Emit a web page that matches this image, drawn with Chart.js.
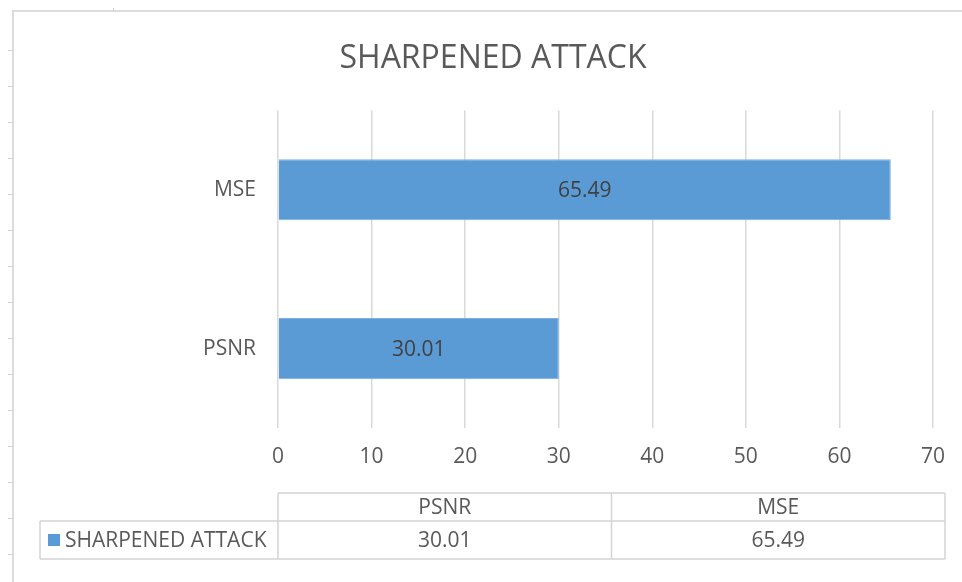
<!DOCTYPE html>
<html>
<head>
<meta charset="utf-8">
<title>SHARPENED ATTACK</title>
<script src="https://cdn.jsdelivr.net/npm/chart.js@4.4.1/dist/chart.umd.min.js"></script>
<style>
    html, body { margin: 0; padding: 0; background: #ffffff; }
    #wrap { width: 962px; height: 582px; position: relative; }
</style>
</head>
<body>
<div id="wrap"><canvas id="attackGraph" width="962" height="582"></canvas></div>
<script>
const chartTitle = 'SHARPENED ATTACK';
const seriesName = 'SHARPENED ATTACK';
const categories = ['PSNR', 'MSE'];
const values = [30.01, 65.49];
const axisMin = 0;
const axisMax = 70;
const axisStep = 10;

const barColor = '#5B9BD5';
const textColor = '#595959';
const lineColor = '#d9d9d9';
const fontFamily = "'Open Sans', 'DejaVu Sans', sans-serif";

// sheet edge with its little tick marks, left and top
const frame = {
    id: 'frame',
    beforeDraw: function (chart) {
        let ctx = chart.ctx;
        ctx.save();
        ctx.fillStyle = '#ffffff';
        ctx.fillRect(0, 0, chart.width, chart.height);
        ctx.strokeStyle = '#dcdcdc';
        ctx.lineWidth = 2;
        ctx.beginPath();
        ctx.moveTo(13, chart.height);
        ctx.lineTo(13, 11);
        ctx.lineTo(chart.width, 11);
        ctx.stroke();
        ctx.lineWidth = 1;
        ctx.strokeStyle = '#d0d0d0';
        ctx.beginPath();
        for (let y = 50.5; y < chart.height; y += 36) {
            ctx.moveTo(8, y);
            ctx.lineTo(13, y);
        }
        ctx.moveTo(113.5, 8);
        ctx.lineTo(113.5, 11);
        ctx.stroke();
        ctx.restore();
    }
};

// value written in the middle of each bar
const barLabels = {
    id: 'barLabels',
    afterDatasetsDraw: function (chart) {
        let ctx = chart.ctx;
        let meta = chart.getDatasetMeta(0);
        ctx.save();
        ctx.font = '21px ' + fontFamily;
        ctx.fillStyle = '#404040';
        ctx.textAlign = 'center';
        ctx.textBaseline = 'middle';
        meta.data.forEach(function (bar, i) {
            let cx = (bar.base + bar.x) / 2;
            ctx.fillText(chart.data.datasets[0].data[i].toFixed(2), cx, bar.y + 1);
        });
        ctx.restore();
    }
};

// data table under the axis
const dataTable = {
    id: 'dataTable',
    afterDraw: function (chart) {
        let ctx = chart.ctx;
        let area = chart.chartArea;
        let labels = chart.data.labels;
        let data = chart.data.datasets[0].data;
        let left = 40;
        let colStart = area.left;
        let right = 945;
        let top = area.bottom + 65;
        let mid = top + 28;
        let bottom = mid + 38;
        let colW = (right - colStart) / labels.length;

        ctx.save();
        ctx.strokeStyle = '#d4d4d4';
        ctx.lineWidth = 1.5;
        ctx.beginPath();
        ctx.moveTo(colStart, top);
        ctx.lineTo(right, top);
        ctx.moveTo(left, mid);
        ctx.lineTo(right, mid);
        ctx.moveTo(left, bottom);
        ctx.lineTo(right, bottom);
        ctx.moveTo(left, mid);
        ctx.lineTo(left, bottom);
        for (let i = 0; i <= labels.length; i++) {
            ctx.moveTo(colStart + colW * i, top);
            ctx.lineTo(colStart + colW * i, bottom);
        }
        ctx.stroke();

        ctx.font = '21px ' + fontFamily;
        ctx.fillStyle = textColor;
        ctx.textBaseline = 'middle';
        ctx.textAlign = 'center';
        labels.forEach(function (label, i) {
            let cx = colStart + colW * (i + 0.5);
            ctx.fillText(label, cx, (top + mid) / 2 + 1);
            ctx.fillText(data[i].toFixed(2), cx, (mid + bottom) / 2 + 1);
        });

        ctx.fillStyle = barColor;
        ctx.fillRect(48, (mid + bottom) / 2 - 6, 12, 12);
        ctx.fillStyle = textColor;
        ctx.textAlign = 'left';
        ctx.fillText(chart.data.datasets[0].label, 65, (mid + bottom) / 2 + 1);
        ctx.restore();
    }
};

const config = {
    type: 'bar',
    data: {
        labels: categories,
        datasets: [{
            label: seriesName,
            data: values,
            backgroundColor: barColor,
            borderColor: '#7fb0dd',
            borderWidth: 1,
            categoryPercentage: 1,
            barPercentage: 0.385,
        }]
    },
    plugins: [frame, barLabels, dataTable],
    options: {
        indexAxis: 'y',
        responsive: false,
        animation: false,
        events: [],
        layout: {
            padding: { left: 53, right: 29, top: 0, bottom: 109 }
        },
        plugins: {
            legend: { display: false },
            tooltip: { enabled: false },
            title: {
                display: true,
                text: chartTitle,
                color: textColor,
                font: { family: fontFamily, size: 32, weight: 'normal', lineHeight: 1.2 },
                padding: { top: 40, bottom: 32 },
            },
        },
        scales: {
            x: {
                min: axisMin,
                max: axisMax,
                afterFit: function (scale) {
                    scale.height = 45;
                },
                ticks: {
                    stepSize: axisStep,
                    color: textColor,
                    padding: 16,
                    font: { family: fontFamily, size: 21 },
                },
                grid: {
                    color: lineColor,
                    lineWidth: 1.5,
                    drawTicks: false,
                },
                border: { display: false },
            },
            y: {
                reverse: true,
                afterFit: function (scale) {
                    scale.width = 278 - 53;
                },
                ticks: {
                    color: textColor,
                    padding: 22,
                    font: { family: fontFamily, size: 21 },
                },
                grid: { display: false, drawTicks: false },
                border: { display: false },
            },
        },
    },
};

let attackChart = new Chart(document.getElementById('attackGraph'), config);
</script>
</body>
</html>
